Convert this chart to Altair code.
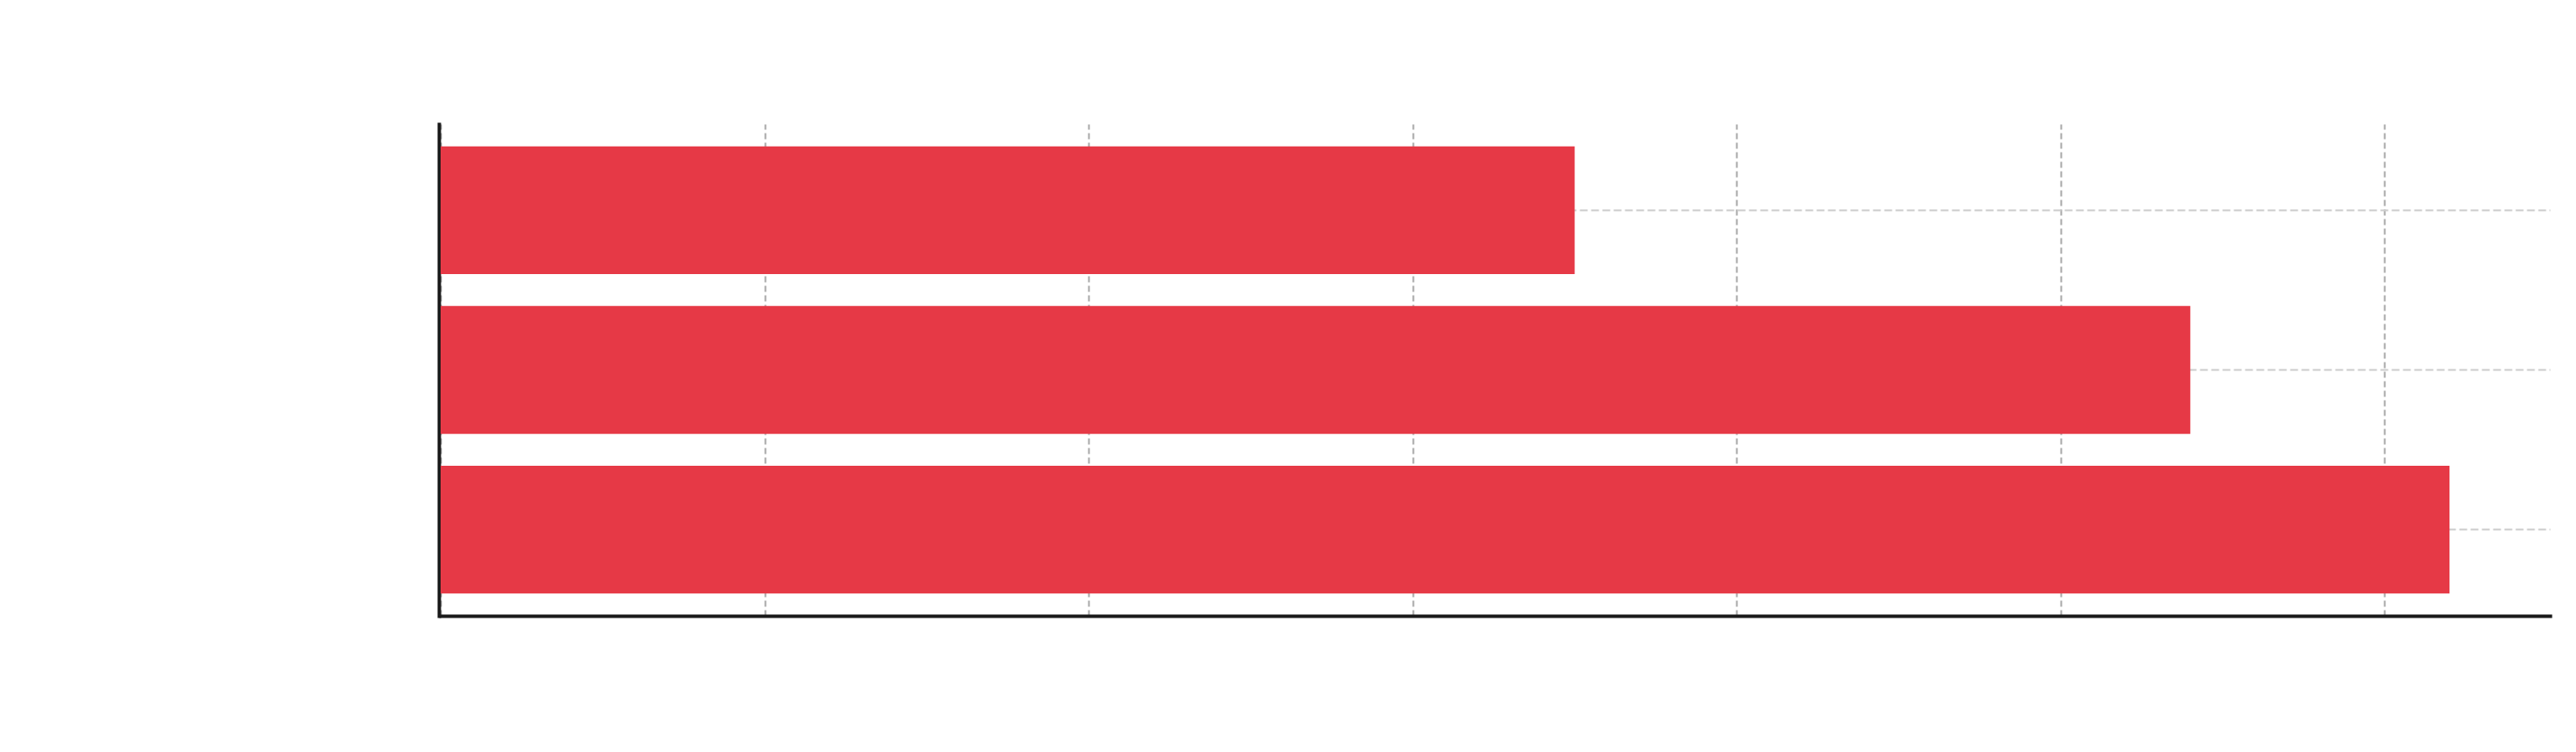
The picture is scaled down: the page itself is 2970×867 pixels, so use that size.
import altair as alt
import pandas as pd

categories = ["A", "B", "C"]
values = [35, 54, 62]
x_ticks = [0, 10, 20, 30, 40, 50, 60]
x_max = 65.1

df = pd.DataFrame({"category": categories, "value": values})

bars = alt.Chart(df).mark_bar(color="#e63946").encode(
    x=alt.X(
        "value:Q",
        scale=alt.Scale(domain=[0, x_max], nice=False, zero=True),
        axis=alt.Axis(
            values=x_ticks,
            labels=False,
            ticks=False,
            title=None,
            grid=True,
            gridColor="#a8a8a8",
            gridWidth=2,
            gridDash=[7, 4],
            domain=True,
            domainColor="#1a1a1a",
            domainWidth=4,
            domainCap="square",
            zindex=0,
        ),
    ),
    y=alt.Y(
        "category:N",
        sort=categories,
        scale=alt.Scale(paddingInner=0.2, paddingOuter=0.14),
        axis=alt.Axis(
            labels=False,
            ticks=False,
            title=None,
            grid=True,
            bandPosition=0.5,
            gridColor="#cccccc",
            gridWidth=2,
            gridDash=[9, 4],
            domain=True,
            domainColor="#1a1a1a",
            domainWidth=4,
            domainCap="square",
            offset=2,
            zindex=0,
        ),
    ),
)

chart = bars.properties(
    width=2432,
    height=567,
    padding={"left": 500, "top": 135, "right": 10, "bottom": 100},
    autosize=alt.AutoSizeParams(type="none"),
    background="white",
).configure_view(stroke=None)

chart.save("out.html", embed_options={"renderer": "svg", "actions": False})
